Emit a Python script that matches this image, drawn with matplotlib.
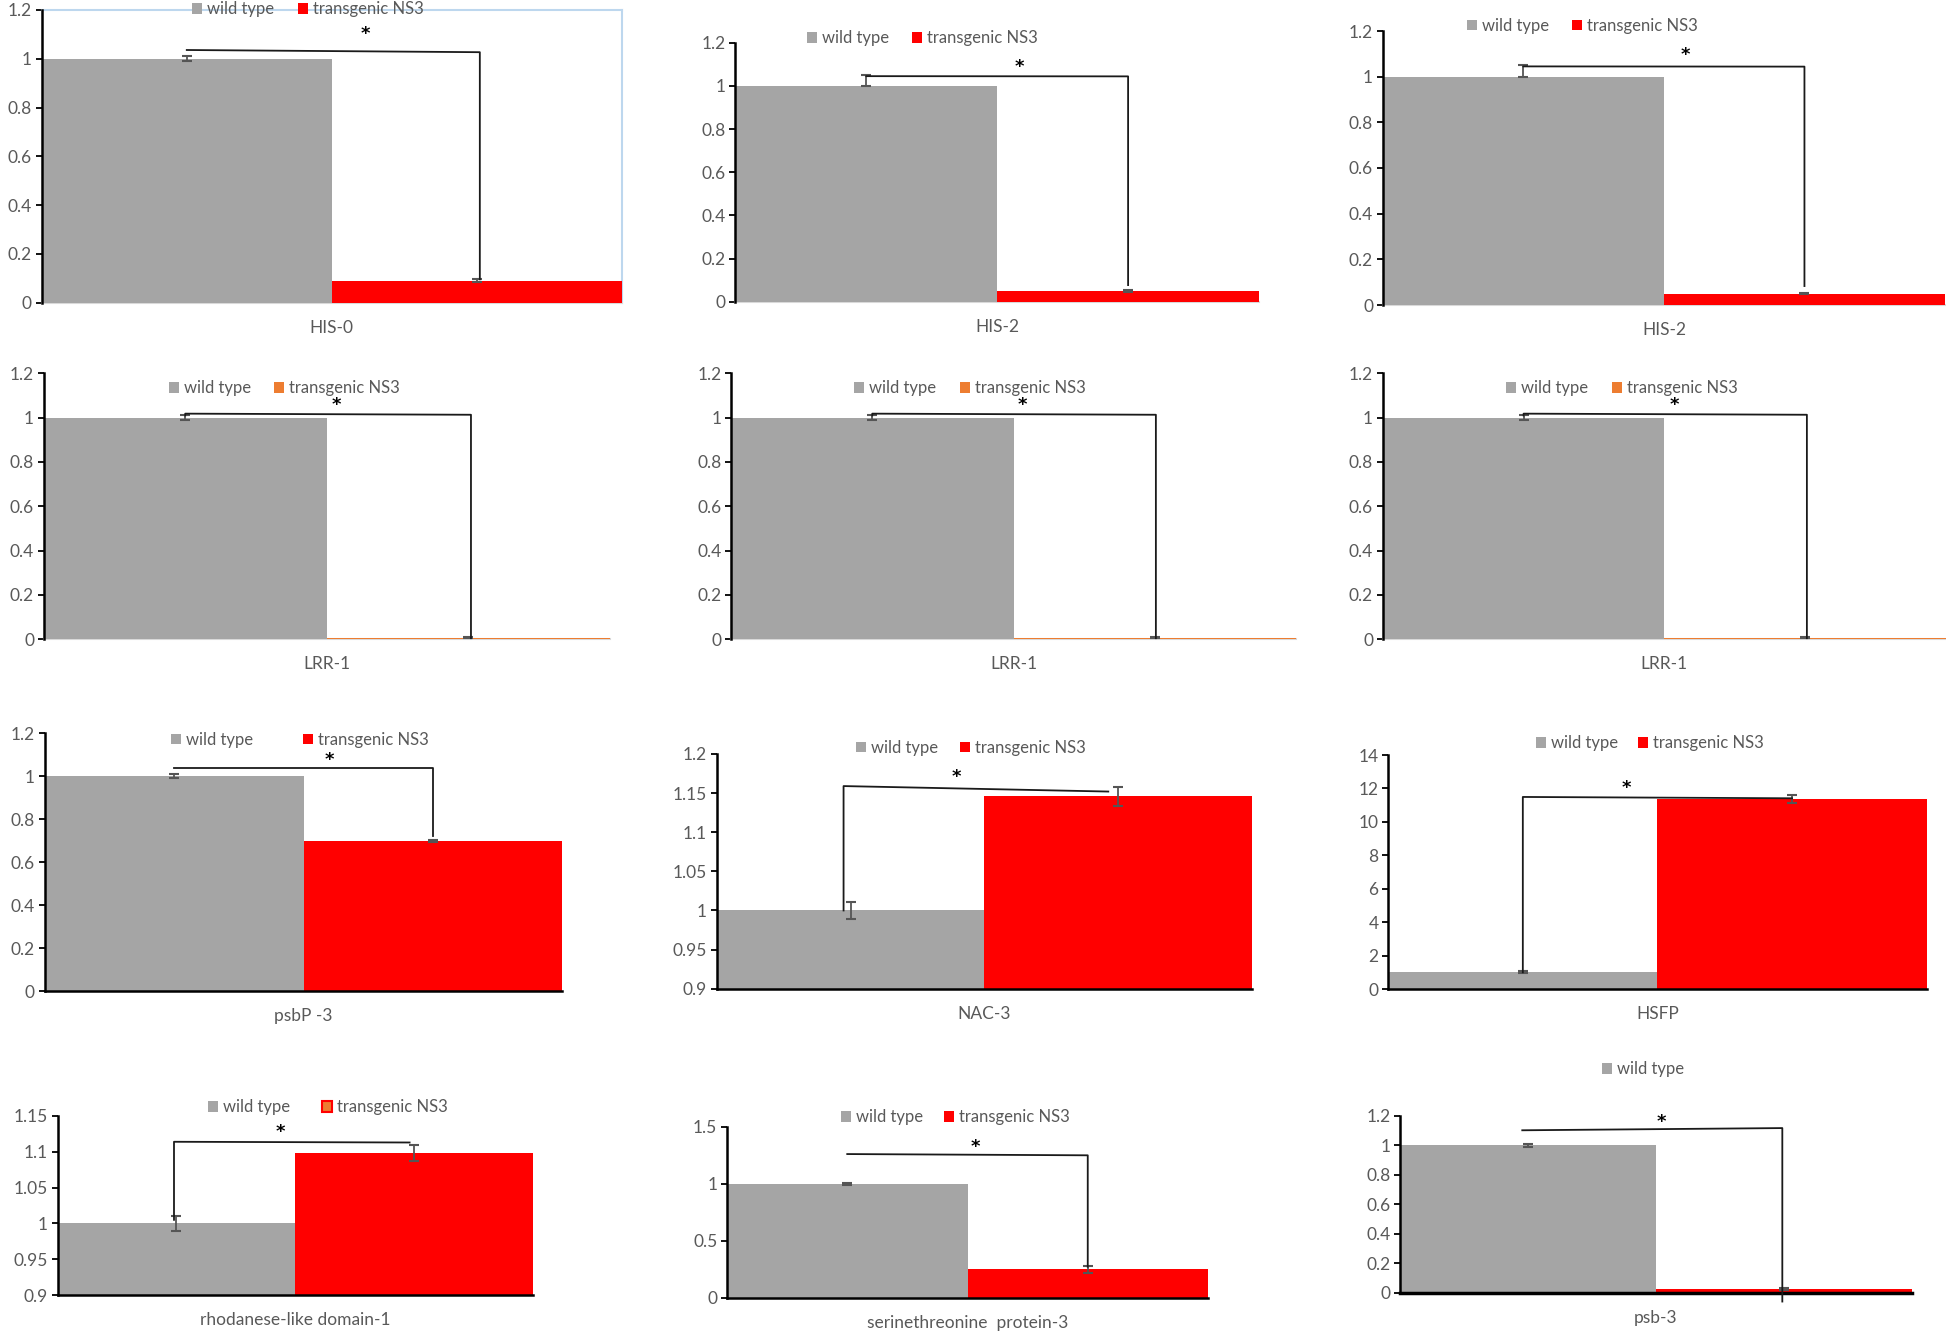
import matplotlib
matplotlib.use('Agg')
import matplotlib.pyplot as plt
from matplotlib.patches import Patch
import numpy as np

W, H = 1946, 1333
plt.rcParams['font.family'] = ['Lato', 'DejaVu Sans']

# ---------------- data ----------------
genes = ["HIS-0", "HIS-2", "HIS-2",
         "LRR-1", "LRR-1", "LRR-1",
         "psbP -3", "NAC-3", "HSFP",
         "rhodanese-like domain-1", "serinethreonine  protein-3", "psb-3"]
wild_type = [1.0, 1.0, 1.0, 1.0, 1.0, 1.0, 1.0, 1.0, 1.0, 1.0, 1.0, 1.0]
wild_err = [0.01, 0.05, 0.05, 0.01, 0.01, 0.01, 0.01, 0.011, 0.05, 0.011, 0.01, 0.01]
transgenic = [0.09, 0.05, 0.05, 0.008, 0.008, 0.008, 0.70, 1.146, 11.35, 1.098, 0.25, 0.025]
transgenic_err = [0.006, 0.003, 0.003, 0.003, 0.003, 0.003, 0.005, 0.012, 0.25, 0.011, 0.03, 0.004]
y_min = [0, 0, 0, 0, 0, 0, 0, 0.9, 0, 0.9, 0, 0]
y_max = [1.2, 1.2, 1.2, 1.2, 1.2, 1.2, 1.2, 1.2, 14, 1.15, 1.5, 1.2]
y_step = [0.2, 0.2, 0.2, 0.2, 0.2, 0.2, 0.2, 0.05, 2, 0.05, 0.5, 0.2]
series_names = ["wild type", "transgenic NS3"]

# ---------------- layout / style ----------------
# axes box in pixels: left, right, top, bottom
boxes = [(41.7, 622, 10, 302.7), (735.4, 1259, 42.7, 301.7), (1382.8, 1945, 31, 305),
         (43.75, 609.6, 373.3, 639.3), (731, 1296, 373.3, 639.3), (1382.8, 1946, 373.3, 639.3),
         (44.6, 562.5, 733.3, 991), (716.7, 1252, 754, 988.7), (1388.2, 1926.7, 755, 989),
         (57.5, 533, 1116, 1295), (727, 1208, 1126.7, 1297.7), (1400.3, 1911.7, 1116, 1292.7)]
legend_pos = [(308, 9.3), (922.5, 38.3), (1582.6, 25.7),
              (284.5, 388.3), (970, 388.3), (1622, 388.3),
              (299.5, 740), (971, 747.7), (1649.5, 743.3),
              (327.5, 1107.3), (955, 1117.3), (1642.6, 1069.3)]
legend_gap = [1.45, 1.35, 1.35, 1.4, 1.45, 1.4, 3.0, 1.3, 1.2, 1.9, 1.25, 1.3]
star_pos = [(365, 29), (1019, 61.7), (1685, 50),
            (336.7, 400), (1022, 400), (1674, 400),
            (329, 755), (956, 771.7), (1626, 783.3),
            (280, 1127.3), (975.6, 1142.3), (1661.8, 1116.7)]
# bracket: x_left, left_start(None = no left drop), y_left, x_right, y_right, right_end(None = no drop)
brackets = [(0.0, None, 1.036, 1.01, 1.027, 0.096),
            (0.0, None, 1.045, 1.0, 1.044, 0.077),
            (0.0, None, 1.045, 1.0, 1.044, 0.083),
            (0.0, 1.01, 1.018, 1.01, 1.013, 0.005),
            (0.0, 1.01, 1.018, 1.004, 1.013, 0.005),
            (0.0, 1.01, 1.018, 1.006, 1.013, 0.005),
            (0.0, None, 1.037, 1.0, 1.037, 0.72),
            (-0.026, 1.0, 1.159, 0.963, 1.152, None),
            (0.0, 1.0, 11.49, 1.0, 11.41, None),
            (-0.01, 1.005, 1.114, 0.981, 1.113, None),
            (0.0, None, 1.26, 1.0, 1.249, 0.272),
            (-0.023, None, 1.103, 0.994, 1.118, -0.06)]

GRAY = '#A5A5A5'
RED = '#FF0000'
ORANGE = '#ED7D31'
TXT = '#595959'
ns3_colors = [RED, RED, RED, ORANGE, ORANGE, ORANGE, RED, RED, RED, RED, RED, RED]
plus_only = [False, True, True, False, False, False, False, False, False, False, False, False]

fig = plt.figure(figsize=(W / 100, H / 100), dpi=100)

for i in range(12):
    l, r, t, b = boxes[i]
    ax = fig.add_axes([l / W, 1 - b / H, (r - l) / W, (b - t) / H])
    ax.set_xlim(-0.5, 1.5)
    ax.set_ylim(y_min[i], y_max[i])
    bz = 3 if i < 6 else 2
    ax.bar([0], [wild_type[i] - y_min[i]], bottom=y_min[i], width=1.0, color=GRAY, zorder=bz)
    ax.bar([1], [transgenic[i] - y_min[i]], bottom=y_min[i], width=1.0, color=ns3_colors[i], zorder=bz)
    if plus_only[i]:
        werr = [[0], [wild_err[i]]]
    else:
        werr = [[wild_err[i]], [wild_err[i]]]
    ax.errorbar([0], [wild_type[i]], yerr=werr, fmt='none', ecolor='#555555',
                elinewidth=1.3, capsize=3.5, capthick=1.5, zorder=4)
    ax.errorbar([1], [transgenic[i]], yerr=[[transgenic_err[i]], [transgenic_err[i]]], fmt='none',
                ecolor='#555555', elinewidth=1.3, capsize=3.5, capthick=1.5, zorder=4)

    # significance bracket
    xl, ls, yl, xr, yr, re = brackets[i]
    xs, ys = [], []
    if ls is not None:
        xs.append(xl); ys.append(ls)
    xs += [xl, xr]; ys += [yl, yr]
    if re is not None:
        xs.append(xr); ys.append(re)
    ax.plot(xs, ys, color='#1a1a1a', lw=1.3, zorder=5, clip_on=False)

    ticks = np.round(np.arange(y_min[i], y_max[i] + y_step[i] / 2, y_step[i]), 4)
    ax.set_yticks(ticks)
    ax.set_yticklabels(['%g' % v for v in ticks])
    ax.set_xticks([])
    ax.tick_params(axis='y', direction='out', length=4, width=1.3, color='black',
                   labelsize=12.5, labelcolor=TXT, pad=3)
    for s in ['top', 'right']:
        ax.spines[s].set_visible(False)
    ax.spines['left'].set_color('black')
    ax.spines['left'].set_linewidth(1.8)
    ax.spines['left'].set_zorder(4)
    if i < 6:
        ax.spines['bottom'].set_color('#D9D9D9')
        ax.spines['bottom'].set_linewidth(1.5)
    else:
        ax.spines['bottom'].set_color('black')
        ax.spines['bottom'].set_linewidth(1.8 if i != 11 else 2.5)
    if i == 0:
        for s in ['top', 'right']:
            ax.spines[s].set_visible(True)
            ax.spines[s].set_color('#BDD7EE')
            ax.spines[s].set_linewidth(1.5)
    ax.set_facecolor('none')

    # category label
    ax.annotate(genes[i], xy=(0.5, 0), xycoords='axes fraction', xytext=(0, -18),
                textcoords='offset points', ha='center', va='center', fontsize=12.5, color=TXT)

    # legend
    if i == 9:
        ns3_patch = Patch(facecolor=ORANGE, edgecolor=RED, linewidth=1.5)
    else:
        ns3_patch = Patch(facecolor=ns3_colors[i], edgecolor='none')
    handles = [Patch(facecolor=GRAY, edgecolor='none'), ns3_patch]
    labels = list(series_names)
    if i == 11:
        handles, labels = handles[:1], labels[:1]
    cx, cy = legend_pos[i]
    ax.legend(handles, labels, loc='center', bbox_to_anchor=(cx / W, 1 - cy / H),
              bbox_transform=fig.transFigure, ncol=2, frameon=False, fontsize=12,
              handlelength=0.6, handleheight=0.6, handletextpad=0.3,
              columnspacing=legend_gap[i], labelcolor=TXT, borderpad=0, borderaxespad=0)

    # significance star
    sx, sy = star_pos[i]
    fig.text(sx / W, 1 - (sy + 10) / H, '*', ha='center', va='baseline',
             fontsize=13, fontweight='bold', color='black', family='DejaVu Sans')

fig.savefig('out.png', dpi=100, facecolor='white')
